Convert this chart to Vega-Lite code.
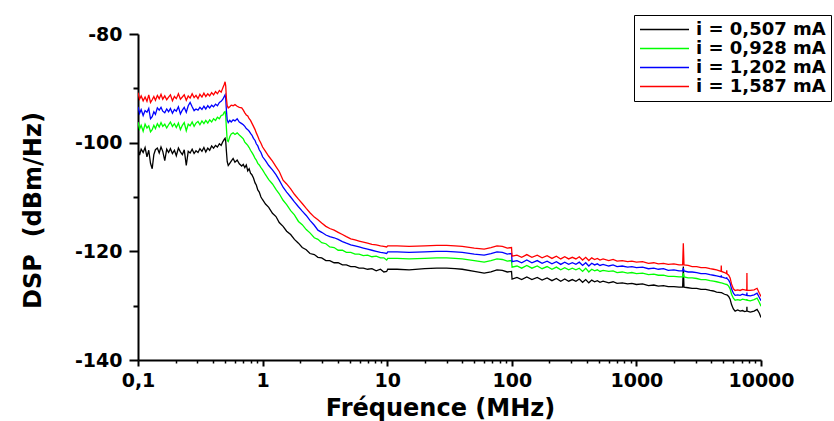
{
 "$schema": "https://vega.github.io/schema/vega-lite/v6.json",
 "width": 623,
 "height": 326,
 "autosize": "none",
 "padding": {"left": 138, "top": 34, "right": 73, "bottom": 61},
 "background": "white",
 "config": {
  "view": {"stroke": null},
  "font": "DejaVu Sans",
  "axis": {"domainColor": "black", "domainWidth": 2, "tickColor": "black", "grid": false, "labelFont": "DejaVu Sans", "labelFontWeight": "bold", "labelFontSize": 19, "labelColor": "black", "titleFont": "DejaVu Sans", "titleFontWeight": "bold", "titleColor": "black"}
 },
 "data": {"values": [
  {"f":0.1,"a":-101.0,"b":-96.2,"c":-93.4,"d":-90.8},
  {"f":0.103,"a":-102.3,"b":-97.5,"c":-94.6,"d":-92.0},
  {"f":0.106,"a":-101.2,"b":-96.8,"c":-93.9,"d":-91.4},
  {"f":0.11,"a":-101.8,"b":-97.9,"c":-95.0,"d":-92.3},
  {"f":0.114,"a":-100.9,"b":-96.6,"c":-94.1,"d":-91.6},
  {"f":0.118,"a":-102.6,"b":-97.3,"c":-94.4,"d":-92.4},
  {"f":0.122,"a":-101.4,"b":-96.9,"c":-93.7,"d":-91.2},
  {"f":0.126,"a":-103.8,"b":-98.0,"c":-95.6,"d":-92.6},
  {"f":0.13,"a":-104.8,"b":-97.6,"c":-95.2,"d":-92.1},
  {"f":0.134,"a":-102.2,"b":-96.8,"c":-94.3,"d":-91.5},
  {"f":0.138,"a":-101.3,"b":-97.4,"c":-94.8,"d":-92.2},
  {"f":0.143,"a":-101.0,"b":-96.5,"c":-93.6,"d":-91.3},
  {"f":0.148,"a":-101.9,"b":-97.1,"c":-94.0,"d":-91.9},
  {"f":0.153,"a":-100.8,"b":-96.3,"c":-93.5,"d":-91.1},
  {"f":0.158,"a":-101.6,"b":-97.0,"c":-94.2,"d":-92.0},
  {"f":0.164,"a":-103.3,"b":-96.6,"c":-94.5,"d":-91.4},
  {"f":0.17,"a":-101.2,"b":-97.3,"c":-93.8,"d":-92.1},
  {"f":0.176,"a":-101.8,"b":-96.7,"c":-94.3,"d":-91.6},
  {"f":0.182,"a":-101.1,"b":-96.2,"c":-93.7,"d":-91.2},
  {"f":0.189,"a":-102.0,"b":-97.0,"c":-94.6,"d":-92.3},
  {"f":0.196,"a":-101.4,"b":-96.5,"c":-93.9,"d":-91.5},
  {"f":0.203,"a":-102.4,"b":-97.2,"c":-94.2,"d":-91.9},
  {"f":0.211,"a":-101.0,"b":-96.4,"c":-93.4,"d":-91.0},
  {"f":0.219,"a":-101.7,"b":-97.6,"c":-94.7,"d":-92.0},
  {"f":0.227,"a":-102.2,"b":-96.8,"c":-94.0,"d":-91.6},
  {"f":0.235,"a":-101.3,"b":-96.3,"c":-93.5,"d":-91.2},
  {"f":0.244,"a":-104.2,"b":-97.8,"c":-94.4,"d":-92.2},
  {"f":0.253,"a":-101.6,"b":-96.6,"c":-93.2,"d":-91.4},
  {"f":0.262,"a":-101.9,"b":-96.9,"c":-92.6,"d":-91.8},
  {"f":0.272,"a":-101.2,"b":-96.2,"c":-93.4,"d":-91.0},
  {"f":0.282,"a":-102.0,"b":-97.0,"c":-94.1,"d":-91.7},
  {"f":0.292,"a":-101.5,"b":-96.4,"c":-93.8,"d":-91.3},
  {"f":0.303,"a":-101.8,"b":-96.1,"c":-94.0,"d":-91.9},
  {"f":0.314,"a":-101.1,"b":-96.7,"c":-93.5,"d":-91.1},
  {"f":0.326,"a":-101.6,"b":-96.0,"c":-93.9,"d":-91.6},
  {"f":0.338,"a":-100.9,"b":-96.5,"c":-93.3,"d":-90.9},
  {"f":0.35,"a":-101.7,"b":-95.9,"c":-93.8,"d":-91.5},
  {"f":0.363,"a":-101.0,"b":-96.4,"c":-93.2,"d":-91.0},
  {"f":0.376,"a":-101.4,"b":-95.8,"c":-93.6,"d":-91.4},
  {"f":0.39,"a":-100.6,"b":-96.2,"c":-93.1,"d":-90.8},
  {"f":0.404,"a":-101.0,"b":-95.6,"c":-93.4,"d":-91.2},
  {"f":0.419,"a":-100.5,"b":-95.9,"c":-92.9,"d":-90.6},
  {"f":0.434,"a":-100.8,"b":-95.3,"c":-93.2,"d":-91.0},
  {"f":0.45,"a":-100.2,"b":-95.6,"c":-92.6,"d":-90.4},
  {"f":0.465,"a":-100.5,"b":-95.0,"c":-92.4,"d":-90.7},
  {"f":0.48,"a":-99.8,"b":-94.9,"c":-92.0,"d":-89.9},
  {"f":0.492,"a":-99.4,"b":-94.4,"c":-91.5,"d":-89.3},
  {"f":0.5,"a":-99.2,"b":-94.3,"c":-91.2,"d":-88.8},
  {"f":0.506,"a":-99.8,"b":-95.2,"c":-92.0,"d":-89.6},
  {"f":0.512,"a":-101.5,"b":-97.2,"c":-94.0,"d":-91.8},
  {"f":0.52,"a":-103.5,"b":-99.6,"c":-95.8,"d":-93.2},
  {"f":0.53,"a":-104.2,"b":-99.8,"c":-96.3,"d":-93.6},
  {"f":0.545,"a":-103.8,"b":-98.9,"c":-95.9,"d":-93.4},
  {"f":0.56,"a":-103.4,"b":-98.4,"c":-96.2,"d":-93.1},
  {"f":0.58,"a":-102.9,"b":-98.2,"c":-95.8,"d":-93.2},
  {"f":0.6,"a":-103.6,"b":-98.5,"c":-96.0,"d":-93.0},
  {"f":0.625,"a":-103.2,"b":-98.2,"c":-95.6,"d":-93.3},
  {"f":0.65,"a":-103.9,"b":-98.6,"c":-96.2,"d":-93.5},
  {"f":0.68,"a":-104.3,"b":-99.0,"c":-96.5,"d":-93.6},
  {"f":0.7,"a":-104.0,"b":-99.3,"c":-96.7,"d":-94.0},
  {"f":0.72,"a":-104.6,"b":-99.9,"c":-97.0,"d":-94.5},
  {"f":0.74,"a":-104.1,"b":-100.2,"c":-97.4,"d":-94.9},
  {"f":0.76,"a":-105.2,"b":-100.5,"c":-97.6,"d":-95.1},
  {"f":0.78,"a":-104.8,"b":-100.9,"c":-97.9,"d":-95.6},
  {"f":0.8,"a":-105.6,"b":-101.4,"c":-98.3,"d":-95.9},
  {"f":0.82,"a":-105.9,"b":-101.8,"c":-98.6,"d":-96.4},
  {"f":0.845,"a":-106.5,"b":-102.3,"c":-99.2,"d":-97.0},
  {"f":0.87,"a":-107.4,"b":-102.9,"c":-99.6,"d":-97.6},
  {"f":0.89,"a":-107.8,"b":-103.2,"c":-100.2,"d":-98.2},
  {"f":0.915,"a":-108.7,"b":-103.8,"c":-100.6,"d":-98.8},
  {"f":0.94,"a":-109.1,"b":-104.1,"c":-101.3,"d":-99.5},
  {"f":0.97,"a":-110.0,"b":-104.6,"c":-101.8,"d":-100.1},
  {"f":1.0,"a":-110.5,"b":-105.0,"c":-102.6,"d":-100.8},
  {"f":1.055,"a":-111.3,"b":-105.9,"c":-103.3,"d":-101.6},
  {"f":1.12,"a":-111.9,"b":-106.8,"c":-104.2,"d":-102.5},
  {"f":1.2,"a":-113.0,"b":-107.6,"c":-105.0,"d":-103.4},
  {"f":1.28,"a":-113.6,"b":-108.6,"c":-105.9,"d":-104.4},
  {"f":1.36,"a":-114.7,"b":-109.4,"c":-106.9,"d":-105.3},
  {"f":1.46,"a":-115.4,"b":-110.6,"c":-108.2,"d":-106.9},
  {"f":1.56,"a":-116.3,"b":-111.4,"c":-109.1,"d":-107.6},
  {"f":1.68,"a":-116.9,"b":-112.5,"c":-110.0,"d":-108.5},
  {"f":1.8,"a":-117.8,"b":-113.3,"c":-110.9,"d":-109.5},
  {"f":1.94,"a":-118.5,"b":-114.5,"c":-111.8,"d":-110.4},
  {"f":2.08,"a":-119.3,"b":-115.1,"c":-112.6,"d":-111.2},
  {"f":2.24,"a":-119.7,"b":-116.0,"c":-113.4,"d":-112.1},
  {"f":2.4,"a":-120.4,"b":-116.6,"c":-114.3,"d":-112.9},
  {"f":2.6,"a":-120.6,"b":-117.5,"c":-115.2,"d":-113.7},
  {"f":2.78,"a":-121.1,"b":-117.8,"c":-116.1,"d":-114.2},
  {"f":2.98,"a":-121.2,"b":-118.4,"c":-116.5,"d":-114.8},
  {"f":3.22,"a":-121.7,"b":-118.6,"c":-117.0,"d":-115.4},
  {"f":3.46,"a":-121.7,"b":-119.2,"c":-117.3,"d":-115.8},
  {"f":3.75,"a":-122.1,"b":-119.3,"c":-117.5,"d":-116.1},
  {"f":4.04,"a":-122.1,"b":-119.8,"c":-117.8,"d":-116.5},
  {"f":4.37,"a":-122.5,"b":-119.8,"c":-118.2,"d":-116.9},
  {"f":4.7,"a":-122.5,"b":-120.2,"c":-118.5,"d":-117.3},
  {"f":5.1,"a":-122.8,"b":-120.2,"c":-118.8,"d":-117.7},
  {"f":5.52,"a":-122.8,"b":-120.5,"c":-119.0,"d":-117.9},
  {"f":5.95,"a":-123.1,"b":-120.5,"c":-119.2,"d":-118.1},
  {"f":6.43,"a":-123.1,"b":-120.8,"c":-119.4,"d":-118.3},
  {"f":6.96,"a":-123.3,"b":-120.7,"c":-119.6,"d":-118.5},
  {"f":7.54,"a":-123.2,"b":-121.0,"c":-119.8,"d":-118.7},
  {"f":8.16,"a":-123.6,"b":-120.9,"c":-120.0,"d":-118.8},
  {"f":8.83,"a":-123.3,"b":-121.2,"c":-120.2,"d":-119.0},
  {"f":9.4,"a":-123.8,"b":-121.2,"c":-120.3,"d":-119.1},
  {"f":9.9,"a":-123.7,"b":-121.6,"c":-120.4,"d":-119.2},
  {"f":10.1,"a":-123.3,"b":-121.3,"c":-120.1,"d":-119.0},
  {"f":12,"a":-123.3,"b":-121.3,"c":-120.1,"d":-119.0},
  {"f":15,"a":-123.4,"b":-121.4,"c":-120.2,"d":-119.1},
  {"f":20,"a":-123.2,"b":-121.3,"c":-120.1,"d":-119.0},
  {"f":25,"a":-123.1,"b":-121.2,"c":-120.0,"d":-118.9},
  {"f":30,"a":-123.1,"b":-121.2,"c":-120.0,"d":-118.9},
  {"f":35,"a":-123.2,"b":-121.3,"c":-120.1,"d":-119.0},
  {"f":40,"a":-123.3,"b":-121.4,"c":-120.2,"d":-119.1},
  {"f":50,"a":-123.7,"b":-121.7,"c":-120.5,"d":-119.4},
  {"f":60,"a":-124.0,"b":-122.0,"c":-120.7,"d":-119.6},
  {"f":68,"a":-123.8,"b":-121.7,"c":-120.4,"d":-119.3},
  {"f":76,"a":-123.4,"b":-121.4,"c":-120.1,"d":-119.0},
  {"f":84,"a":-123.5,"b":-121.5,"c":-120.2,"d":-119.1},
  {"f":92,"a":-123.8,"b":-121.8,"c":-120.5,"d":-119.4},
  {"f":99.5,"a":-123.7,"b":-121.7,"c":-120.4,"d":-119.3},
  {"f":100.5,"a":-125.1,"b":-122.9,"c":-121.9,"d":-120.9},
  {"f":110,"a":-124.8,"b":-122.7,"c":-121.7,"d":-120.7},
  {"f":120,"a":-125.2,"b":-123.1,"c":-122.1,"d":-121.1},
  {"f":132,"a":-124.7,"b":-122.6,"c":-121.6,"d":-120.6},
  {"f":145,"a":-125.2,"b":-123.1,"c":-122.1,"d":-121.1},
  {"f":160,"a":-124.8,"b":-122.7,"c":-121.7,"d":-120.7},
  {"f":175,"a":-125.3,"b":-123.2,"c":-122.2,"d":-121.2},
  {"f":192,"a":-124.9,"b":-122.8,"c":-121.8,"d":-120.8},
  {"f":210,"a":-125.4,"b":-123.3,"c":-122.3,"d":-121.3},
  {"f":228,"a":-125.0,"b":-122.9,"c":-121.9,"d":-120.9},
  {"f":247,"a":-125.5,"b":-123.4,"c":-122.4,"d":-121.4},
  {"f":266,"a":-125.1,"b":-123.0,"c":-122.0,"d":-121.0},
  {"f":286,"a":-125.5,"b":-123.4,"c":-122.4,"d":-121.4},
  {"f":306,"a":-125.2,"b":-123.1,"c":-122.1,"d":-121.1},
  {"f":327,"a":-125.5,"b":-123.4,"c":-122.4,"d":-121.4},
  {"f":348,"a":-125.1,"b":-123.1,"c":-122.0,"d":-121.0},
  {"f":370,"a":-125.7,"b":-123.7,"c":-122.6,"d":-121.6},
  {"f":392,"a":-125.2,"b":-123.1,"c":-122.1,"d":-121.1},
  {"f":415,"a":-125.8,"b":-123.8,"c":-122.7,"d":-121.7},
  {"f":438,"a":-125.3,"b":-123.3,"c":-122.2,"d":-121.2},
  {"f":462,"a":-125.6,"b":-123.6,"c":-122.5,"d":-121.5},
  {"f":486,"a":-125.4,"b":-123.4,"c":-122.3,"d":-121.3},
  {"f":510,"a":-125.7,"b":-123.7,"c":-122.6,"d":-121.6},
  {"f":540,"a":-125.5,"b":-123.5,"c":-122.4,"d":-121.4},
  {"f":600,"a":-125.8,"b":-123.7,"c":-122.7,"d":-121.7},
  {"f":650,"a":-125.6,"b":-123.6,"c":-122.5,"d":-121.5},
  {"f":700,"a":-125.9,"b":-123.9,"c":-122.8,"d":-121.8},
  {"f":770,"a":-125.8,"b":-123.8,"c":-122.7,"d":-121.7},
  {"f":850,"a":-126.0,"b":-124.0,"c":-122.9,"d":-121.9},
  {"f":920,"a":-125.9,"b":-123.9,"c":-122.8,"d":-121.8},
  {"f":1000,"a":-126.1,"b":-124.1,"c":-123.0,"d":-122.0},
  {"f":1120,"a":-126.0,"b":-124.0,"c":-122.9,"d":-121.9},
  {"f":1250,"a":-126.3,"b":-124.3,"c":-123.2,"d":-122.2},
  {"f":1380,"a":-126.2,"b":-124.2,"c":-123.1,"d":-122.1},
  {"f":1500,"a":-126.4,"b":-124.4,"c":-123.3,"d":-122.3},
  {"f":1650,"a":-126.3,"b":-124.4,"c":-123.2,"d":-122.2},
  {"f":1800,"a":-126.5,"b":-124.6,"c":-123.5,"d":-122.4},
  {"f":2000,"a":-126.5,"b":-124.6,"c":-123.4,"d":-122.3},
  {"f":2200,"a":-126.6,"b":-124.7,"c":-123.6,"d":-122.5},
  {"f":2350,"a":-126.6,"b":-124.7,"c":-123.6,"d":-122.5},
  {"f":2380,"a":-122.8,"b":-124.0,"c":-123.1,"d":-118.5},
  {"f":2410,"a":-126.6,"b":-124.7,"c":-123.6,"d":-122.5},
  {"f":2600,"a":-126.7,"b":-124.9,"c":-123.8,"d":-122.6},
  {"f":2800,"a":-126.8,"b":-124.9,"c":-123.8,"d":-122.8},
  {"f":3050,"a":-126.8,"b":-125.0,"c":-123.9,"d":-122.8},
  {"f":3300,"a":-127.0,"b":-125.2,"c":-124.1,"d":-123.0},
  {"f":3600,"a":-127.0,"b":-125.2,"c":-124.1,"d":-123.0},
  {"f":3900,"a":-127.2,"b":-125.4,"c":-124.3,"d":-123.2},
  {"f":4150,"a":-127.3,"b":-125.5,"c":-124.4,"d":-123.3},
  {"f":4400,"a":-127.5,"b":-125.6,"c":-124.5,"d":-123.4},
  {"f":4780,"a":-127.6,"b":-125.8,"c":-124.7,"d":-123.7},
  {"f":4800,"a":-127.6,"b":-125.8,"c":-124.4,"d":-122.6},
  {"f":4820,"a":-127.6,"b":-125.8,"c":-124.7,"d":-123.7},
  {"f":5100,"a":-127.9,"b":-126.0,"c":-124.9,"d":-123.9},
  {"f":5290,"a":-128.0,"b":-126.1,"c":-125.0,"d":-124.1},
  {"f":5310,"a":-128.0,"b":-126.1,"c":-124.8,"d":-123.5},
  {"f":5330,"a":-128.0,"b":-126.1,"c":-125.0,"d":-124.1},
  {"f":5500,"a":-128.3,"b":-126.4,"c":-125.3,"d":-124.4},
  {"f":5650,"a":-128.8,"b":-126.9,"c":-125.8,"d":-124.9},
  {"f":5800,"a":-129.8,"b":-127.9,"c":-126.9,"d":-126.0},
  {"f":6000,"a":-130.6,"b":-128.6,"c":-127.7,"d":-126.9},
  {"f":6200,"a":-131.0,"b":-129.0,"c":-128.1,"d":-127.2},
  {"f":6500,"a":-130.8,"b":-128.9,"c":-128.0,"d":-127.1},
  {"f":6800,"a":-131.0,"b":-129.0,"c":-128.1,"d":-127.2},
  {"f":7100,"a":-130.9,"b":-128.8,"c":-127.9,"d":-127.0},
  {"f":7400,"a":-131.1,"b":-128.9,"c":-128.0,"d":-127.1},
  {"f":7690,"a":-131.0,"b":-129.0,"c":-128.1,"d":-127.2},
  {"f":7710,"a":-130.2,"b":-128.8,"c":-127.6,"d":-124.0},
  {"f":7730,"a":-131.0,"b":-129.0,"c":-128.1,"d":-127.2},
  {"f":8200,"a":-131.2,"b":-129.1,"c":-128.2,"d":-127.2},
  {"f":8800,"a":-131.0,"b":-128.9,"c":-128.0,"d":-127.1},
  {"f":9300,"a":-130.7,"b":-128.6,"c":-127.7,"d":-126.8},
  {"f":9700,"a":-131.4,"b":-129.4,"c":-128.5,"d":-127.7},
  {"f":10000,"a":-132.2,"b":-130.1,"c":-129.1,"d":-128.3}
 ]},
 "transform": [{"fold": ["a", "b", "c", "d"], "as": ["s", "v"]}],
 "mark": {"type": "line", "strokeWidth": 1.3, "clip": true},
 "encoding": {
  "x": {
   "field": "f", "type": "quantitative",
   "scale": {"type": "log", "domain": [0.1, 10000], "nice": false},
   "axis": {
    "values": [0.1,0.2,0.3,0.4,0.5,0.6,0.7,0.8,0.9,1,2,3,4,5,6,7,8,9,10,20,30,40,50,60,70,80,90,100,200,300,400,500,600,700,800,900,1000,2000,3000,4000,5000,6000,7000,8000,9000,10000],
    "labelExpr": "datum.value == 0.1 ? '0,1' : (indexof([1,10,100,1000,10000], datum.value) >= 0 ? '' + datum.value : '')",
    "tickSize": {"condition": {"test": "indexof([0.1,1,10,100,1000,10000], datum.value) >= 0", "value": 6}, "value": 3},
    "tickWidth": {"condition": {"test": "indexof([0.1,1,10,100,1000,10000], datum.value) >= 0", "value": 2}, "value": 1.5},
    "labelPadding": 5, "labelFlush": false, "labelOverlap": false,
    "title": "Fréquence (MHz)", "titleFontSize": 24, "titleX": 302, "titleY": 55, "titleAlign": "center", "titleBaseline": "alphabetic"
   }
  },
  "y": {
   "field": "v", "type": "quantitative",
   "scale": {"domain": [-140, -80], "nice": false, "zero": false},
   "axis": {
    "values": [-140, -130, -120, -110, -100, -90, -80],
    "labelExpr": "datum.value % 20 == 0 ? '' + datum.value : ''",
    "tickSize": {"condition": {"test": "datum.value % 20 == 0", "value": 9}, "value": 5},
    "tickWidth": 2,
    "labelPadding": 7, "labelFlush": false, "labelOverlap": false,
    "title": "DSP\u00a0 (dBm/Hz)", "titleFontSize": 24, "titleX": -98, "titleY": 176, "titleAngle": -90, "titleAlign": "center", "titleBaseline": "alphabetic"
   }
  },
  "color": {
   "field": "s", "type": "nominal",
   "scale": {"domain": ["a", "b", "c", "d"], "range": ["#000000", "#00ff00", "#0000ff", "#ff0000"]},
   "legend": {
    "orient": "none", "legendX": 496, "legendY": -19, "title": null,
    "labelExpr": "datum.label == 'a' ? 'i = 0,507 mA' : datum.label == 'b' ? 'i = 0,928 mA' : datum.label == 'c' ? 'i = 1,202 mA' : 'i = 1,587 mA'",
    "labelFont": "DejaVu Sans", "labelFontWeight": "bold", "labelFontSize": 18, "labelColor": "black",
    "symbolType": "stroke", "symbolSize": 2401, "symbolStrokeWidth": 1.5,
    "clipHeight": 19,
    "strokeColor": "black", "fillColor": "white", "padding": 5, "rowPadding": 0, "labelOffset": 6
   }
  }
 }
}
